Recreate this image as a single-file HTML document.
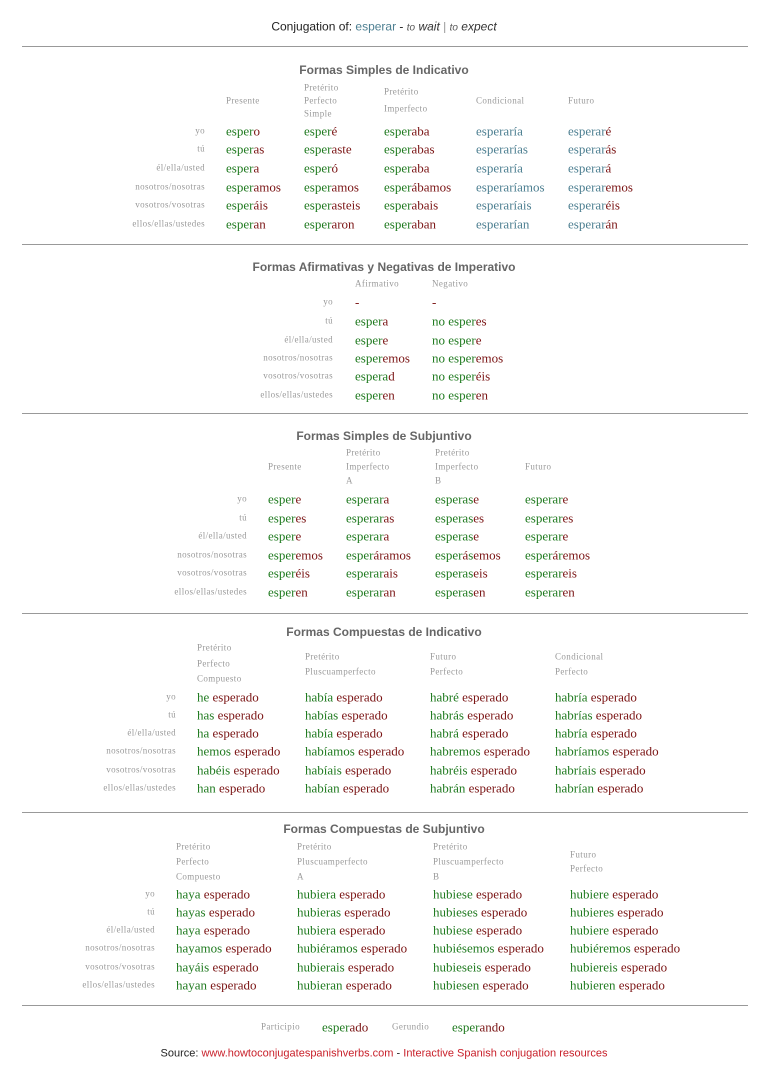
<!DOCTYPE html>
<html><head><meta charset="utf-8">
<style>
html,body{margin:0;padding:0;background:#fff;}
body{width:768px;height:1087px;position:relative;overflow:hidden;}
.t{position:absolute;white-space:nowrap;line-height:1;}
.w{font-family:"Liberation Serif",serif;font-size:13px;transform:translateY(-50%);}
.l{font-family:"Liberation Serif",serif;font-size:9px;color:#999;transform:translateY(-50%);letter-spacing:0.4px;}
.r{text-align:right;}
.h{font-family:"Liberation Sans",sans-serif;font-size:12px;font-weight:bold;color:#666;transform:translate(-50%,-50%);}
.g{color:#1f7a1f;}.d{color:#7a1414;}.b{color:#4d7f91;}
.hr{position:absolute;left:22px;width:726px;height:1px;background:#999;}
</style></head><body>
<div class="t" style="left:384px;top:27px;transform:translate(-50%,-50%);font-family:'Liberation Sans',sans-serif;font-size:12px;color:#222;">Conjugation of: <span style="color:#4d7f91">esperar</span> - <i style="font-size:10px;color:#555">to</i> <i style="color:#333">wait</i> <span style="color:#999">|</span> <i style="font-size:10px;color:#555">to</i> <i style="color:#333">expect</i></div>
<div class="hr" style="top:46px"></div>
<div class="hr" style="top:244px"></div>
<div class="hr" style="top:413px"></div>
<div class="hr" style="top:613px"></div>
<div class="hr" style="top:812px"></div>
<div class="hr" style="top:1005px"></div>
<div class="t l" style="left:261px;top:1027px">Participio</div>
<div class="t w" style="left:322px;top:1027px"><span class="g">esper</span><span class="d">ado</span></div>
<div class="t l" style="left:392px;top:1027px">Gerundio</div>
<div class="t w" style="left:452px;top:1027px"><span class="g">esper</span><span class="d">ando</span></div>
<div class="t" style="left:384px;top:1054px;transform:translate(-50%,-50%);font-family:'Liberation Sans',sans-serif;font-size:11px;color:#222;">Source: <span style="color:#c8202a">www.howtoconjugatespanishverbs.com</span> - <span style="color:#c8202a">Interactive Spanish conjugation resources</span></div>
<script>
const persons=["yo","tú","él/ella/usted","nosotros/nosotras","vosotros/vosotras","ellos/ellas/ustedes"];
// each word: list of [text, colorClass] segments
const se=(stem,sc,ends,ec)=>ends.map(e=>[[stem,sc],[e,ec]]);
const sections=[
{title:"Formas Simples de Indicativo",ty:70,lx:205,rows:[131,149,168,187,205,224],
 cols:[
  {x:226,hy:[101],h:["Presente"],w:se("esper","g",["o","as","a","amos","áis","an"],"d")},
  {x:304,hy:[88,101,114],h:["Pretérito","Perfecto","Simple"],w:se("esper","g",["é","aste","ó","amos","asteis","aron"],"d")},
  {x:384,hy:[92,109],h:["Pretérito","Imperfecto"],w:se("esper","g",["aba","abas","aba","ábamos","abais","aban"],"d")},
  {x:476,hy:[101],h:["Condicional"],w:se("esperar","b",["ía","ías","ía","íamos","íais","ían"],"b")},
  {x:568,hy:[101],h:["Futuro"],w:se("esperar","b",["é","ás","á","emos","éis","án"],"d")}]},
{title:"Formas Afirmativas y Negativas de Imperativo",ty:267,lx:333,rows:[302,321,340,358,376,395],
 cols:[
  {x:355,hy:[284],h:["Afirmativo"],w:[[["-","d"]],[["esper","g"],["a","d"]],[["esper","g"],["e","d"]],[["esper","g"],["emos","d"]],[["espera","g"],["d","d"]],[["esper","g"],["en","d"]]]},
  {x:432,hy:[284],h:["Negativo"],w:[[["-","d"]],[["no esper","g"],["es","d"]],[["no esper","g"],["e","d"]],[["no esper","g"],["emos","d"]],[["no esper","g"],["éis","d"]],[["no esper","g"],["en","d"]]]}]},
{title:"Formas Simples de Subjuntivo",ty:436,lx:247,rows:[499,518,536,555,573,592],
 cols:[
  {x:268,hy:[467],h:["Presente"],w:se("esper","g",["e","es","e","emos","éis","en"],"d")},
  {x:346,hy:[453,467,481],h:["Pretérito","Imperfecto","A"],w:[[["esperar","g"],["a","d"]],[["esperar","g"],["as","d"]],[["esperar","g"],["a","d"]],[["esper","g"],["áramos","d"]],[["esperar","g"],["ais","d"]],[["esperar","g"],["an","d"]]]},
  {x:435,hy:[453,467,481],h:["Pretérito","Imperfecto","B"],w:[[["esperas","g"],["e","d"]],[["esperas","g"],["es","d"]],[["esperas","g"],["e","d"]],[["esper","g"],["á","d"],["s","g"],["emos","d"]],[["esperas","g"],["eis","d"]],[["esperas","g"],["en","d"]]]},
  {x:525,hy:[467],h:["Futuro"],w:[[["esperar","g"],["e","d"]],[["esperar","g"],["es","d"]],[["esperar","g"],["e","d"]],[["esper","g"],["á","d"],["r","g"],["emos","d"]],[["esperar","g"],["eis","d"]],[["esperar","g"],["en","d"]]]}]},
{title:"Formas Compuestas de Indicativo",ty:632,lx:176,rows:[697,715,733,751,770,788],
 cols:[
  {x:197,hy:[648,664,679],h:["Pretérito","Perfecto","Compuesto"],w:["he","has","ha","hemos","habéis","han"].map(e=>[[e,"g"],[" esperado","d"]])},
  {x:305,hy:[657,672],h:["Pretérito","Pluscuamperfecto"],w:["había","habías","había","habíamos","habíais","habían"].map(e=>[[e,"g"],[" esperado","d"]])},
  {x:430,hy:[657,672],h:["Futuro","Perfecto"],w:["habré","habrás","habrá","habremos","habréis","habrán"].map(e=>[[e,"g"],[" esperado","d"]])},
  {x:555,hy:[657,672],h:["Condicional","Perfecto"],w:["habría","habrías","habría","habríamos","habríais","habrían"].map(e=>[[e,"g"],[" esperado","d"]])}]},
{title:"Formas Compuestas de Subjuntivo",ty:829,lx:155,rows:[894,912,930,948,967,985],
 cols:[
  {x:176,hy:[847,862,877],h:["Pretérito","Perfecto","Compuesto"],w:["haya","hayas","haya","hayamos","hayáis","hayan"].map(e=>[[e,"g"],[" esperado","d"]])},
  {x:297,hy:[847,862,877],h:["Pretérito","Pluscuamperfecto","A"],w:["hubiera","hubieras","hubiera","hubiéramos","hubierais","hubieran"].map(e=>[[e,"g"],[" esperado","d"]])},
  {x:433,hy:[847,862,877],h:["Pretérito","Pluscuamperfecto","B"],w:["hubiese","hubieses","hubiese","hubiésemos","hubieseis","hubiesen"].map(e=>[[e,"g"],[" esperado","d"]])},
  {x:570,hy:[855,869],h:["Futuro","Perfecto"],w:["hubiere","hubieres","hubiere","hubiéremos","hubiereis","hubieren"].map(e=>[[e,"g"],[" esperado","d"]])}]}
];
function mk(cls,x,y,html){
  const el=document.createElement('div');
  el.className='t '+cls;
  el.style.left=x+'px';el.style.top=y+'px';
  el.innerHTML=html;
  document.body.appendChild(el);
  return el;
}
sections.forEach(s=>{
  const t=mk('h',384,s.ty,s.title);
  
  
  s.rows.forEach((y,i)=>{
    const el=mk('l r',0,y,persons[i]);
    el.style.left='auto';el.style.right=(768-s.lx)+'px';
    
    
  });
  s.cols.forEach(c=>{
    c.h.forEach((txt,k)=>{
      const el=mk('l',c.x,c.hy[k],txt);
      
      
    });
    c.w.forEach((w,i)=>{
      const el=mk('w',c.x,s.rows[i],w.map(p=>'<span class="'+p[1]+'">'+p[0]+'</span>').join(''));
      
      
    });
  });
});
</script>
</body></html>
